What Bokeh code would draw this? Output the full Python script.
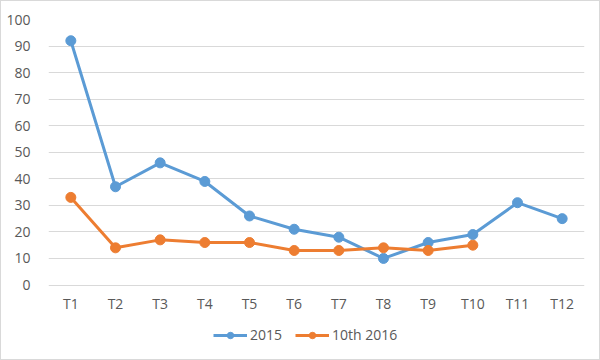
from bokeh.plotting import figure
from bokeh.models import ColumnDataSource, Legend, LegendItem, FixedTicker, Range1d, FactorRange
from bokeh.core.properties import value
from bokeh.embed import file_html
from bokeh.resources import INLINE

categories = ["T1", "T2", "T3", "T4", "T5", "T6", "T7", "T8", "T9", "T10", "T11", "T12"]
series_2015 = [92, 37, 46, 39, 26, 21, 18, 10, 16, 19, 31, 25]
cats_2016 = ["T1", "T2", "T3", "T4", "T5", "T6", "T7", "T8", "T9", "T10"]
series_2016 = [33, 14, 17, 16, 16, 13, 13, 14, 13, 15]
y_ticks = [0, 10, 20, 30, 40, 50, 60, 70, 80, 90, 100]

BLUE = "#5B9BD5"
ORANGE = "#ED7D31"
TXT = "#595959"
FONT = "Open Sans"
LABEL_Y = -7.0  # category label row, below the 0 line

p = figure(width=600, height=360, x_range=FactorRange(*categories, range_padding=0),
           y_range=Range1d(-25.8, 100), output_backend="svg", toolbar_location=None,
           min_border_left=47, min_border_right=17, min_border_top=18, min_border_bottom=8)
p.outline_line_color = None
p.background_fill_color = "white"
p.border_fill_color = "white"
p.styles = {"border": "1px solid #D9D9D9", "box-sizing": "border-box"}

p.xgrid.grid_line_color = None
p.ygrid.grid_line_color = "#D9D9D9"
p.ygrid.grid_line_width = 1
p.yaxis.ticker = FixedTicker(ticks=y_ticks)
p.xaxis.visible = False

ax = p.yaxis[0]
ax.axis_line_color = None
ax.major_tick_line_color = None
ax.minor_tick_line_color = None
ax.major_label_text_font = FONT
ax.major_label_text_font_size = "14px"
ax.major_label_text_color = TXT
ax.major_label_standoff = 12

lab_src = ColumnDataSource(dict(x=categories, y=[LABEL_Y] * len(categories), t=categories))
p.text("x", "y", text="t", source=lab_src, text_font=value(FONT), text_font_size="14px",
       text_color=TXT, text_align="center", text_baseline="middle")

src1 = ColumnDataSource(dict(x=categories, y=series_2015))
src2 = ColumnDataSource(dict(x=cats_2016, y=series_2016))

l1 = p.line("x", "y", source=src1, line_color=BLUE, line_width=3)
c1 = p.scatter("x", "y", source=src1, size=10, fill_color=BLUE, line_color=BLUE)
l2 = p.line("x", "y", source=src2, line_color=ORANGE, line_width=3)
c2 = p.scatter("x", "y", source=src2, size=10, fill_color=ORANGE, line_color=ORANGE)

legend = Legend(items=[LegendItem(label="2015", renderers=[l1, c1]),
                       LegendItem(label="10th 2016", renderers=[l2, c2])],
                orientation="horizontal", location=(165, 9),
                border_line_color=None, background_fill_alpha=0,
                label_text_font=FONT, label_text_font_size="14px",
                label_text_color=TXT, glyph_width=34, glyph_height=16,
                label_height=16, label_standoff=3, spacing=13,
                margin=0, padding=0)
p.add_layout(legend, "center")

open("out.html", "w").write(file_html(p, INLINE))
